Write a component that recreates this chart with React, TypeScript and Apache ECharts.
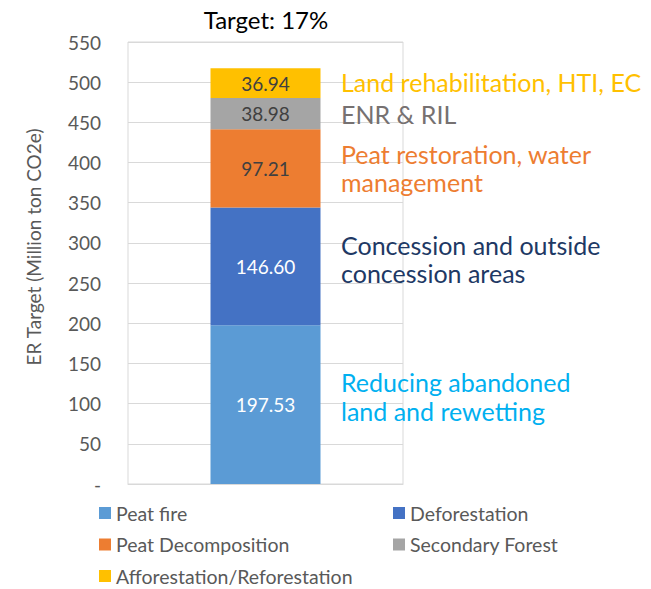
import React, { useEffect, useRef } from "react";
import * as echarts from "echarts";

const categories = [""];
const seriesNames = [
  "Peat fire",
  "Deforestation",
  "Peat Decomposition",
  "Secondary Forest",
  "Afforestation/Reforestation",
];
const seriesValues = [[197.53], [146.6], [97.21], [38.98], [36.94]];
const seriesColors = ["#5B9BD5", "#4472C4", "#ED7D31", "#A5A5A5", "#FFC000"];
const labelColors = ["#FFFFFF", "#FFFFFF", "#404040", "#404040", "#404040"];
const legendLeftItems = ["Peat fire", "Peat Decomposition", "Afforestation/Reforestation"];
const legendRightItems = ["Deforestation", "Secondary Forest"];
const titleText = "Target: 17%";
const yAxisName = "ER Target (Million ton CO2e)";
const annotationLines = [
  { text: "Land rehabilitation, HTI, EC", color: "#FFC000", baseline: 90 },
  { text: "ENR & RIL", color: "#767171", baseline: 122 },
  { text: "Peat restoration, water", color: "#ED7D31", baseline: 162 },
  { text: "management", color: "#ED7D31", baseline: 190 },
  { text: "Concession and outside", color: "#203864", baseline: 253 },
  { text: "concession areas", color: "#203864", baseline: 281 },
  { text: "Reducing abandoned", color: "#00B0F0", baseline: 390 },
  { text: "land and rewetting", color: "#00B0F0", baseline: 419 },
];

const FONT = "Lato";

export default function App() {
  const ref = useRef<HTMLDivElement>(null);
  useEffect(() => {
    if (!ref.current) return;
    const chart = echarts.init(ref.current, undefined, { renderer: "svg" });
    const annFs = 25;
    const graphic: any[] = [
      {
        type: "text",
        x: 266,
        y: 19,
        style: {
          text: titleText,
          fontFamily: FONT,
          fontSize: 24,
          fill: "#000000",
          align: "center",
          verticalAlign: "middle",
        },
      },
      {
        type: "text",
        x: 33,
        y: 247,
        rotation: Math.PI / 2,
        style: {
          text: yAxisName,
          fontFamily: FONT,
          fontSize: 19,
          fill: "#595959",
          align: "center",
          verticalAlign: "middle",
        },
      },
      ...annotationLines.map((a) => ({
        type: "text",
        x: 341,
        y: a.baseline - Math.round(annFs * 0.33),
        z: 10,
        style: {
          text: a.text,
          fontFamily: FONT,
          fontSize: annFs,
          fill: a.color,
          align: "left",
          verticalAlign: "middle",
        },
      })),
    ];
    const legendCommon = {
      orient: "vertical",
      top: 503,
      height: 120,
      padding: 0,
      itemWidth: 12,
      itemHeight: 12,
      itemGap: 11.5,
      icon: "rect",
      textStyle: { fontFamily: FONT, fontSize: 19.5, color: "#595959", lineHeight: 20 },
    };
    chart.setOption({
      animation: false,
      textStyle: { fontFamily: FONT },
      grid: {
        left: 128,
        right: 248,
        top: 42,
        bottom: 105,
        show: true,
        borderColor: "#D9D9D9",
        borderWidth: 1,
      },
      legend: [
        { ...legendCommon, left: 99, data: legendLeftItems },
        { ...legendCommon, left: 393, data: legendRightItems },
      ],
      xAxis: {
        type: "category",
        data: categories,
        axisLine: { lineStyle: { color: "#D9D9D9" } },
        axisTick: { show: false },
        axisLabel: { show: false },
      },
      yAxis: {
        type: "value",
        min: 0,
        max: 550,
        interval: 50,
        axisLine: { show: false },
        axisTick: { show: false },
        splitLine: { lineStyle: { color: "#D9D9D9", width: 1 } },
        axisLabel: {
          margin: 27,
          fontFamily: FONT,
          fontSize: 19,
          color: "#595959",
          formatter: (v: number) => (v === 0 ? "-" : String(v)),
        },
      },
      series: seriesNames.map((name, i) => ({
        name,
        type: "bar",
        stack: "total",
        barWidth: 110,
        data: seriesValues[i],
        itemStyle: { color: seriesColors[i] },
        label: {
          show: true,
          position: "inside",
          fontFamily: FONT,
          fontSize: 19,
          color: labelColors[i],
          formatter: (p: any) => Number(p.value).toFixed(2),
        },
      })),
      graphic,
    });
    return () => chart.dispose();
  }, []);
  return (
    <div
      ref={ref}
      style={{ position: "fixed", left: 0, top: 0, width: 651, height: 589, background: "#ffffff" }}
    />
  );
}
